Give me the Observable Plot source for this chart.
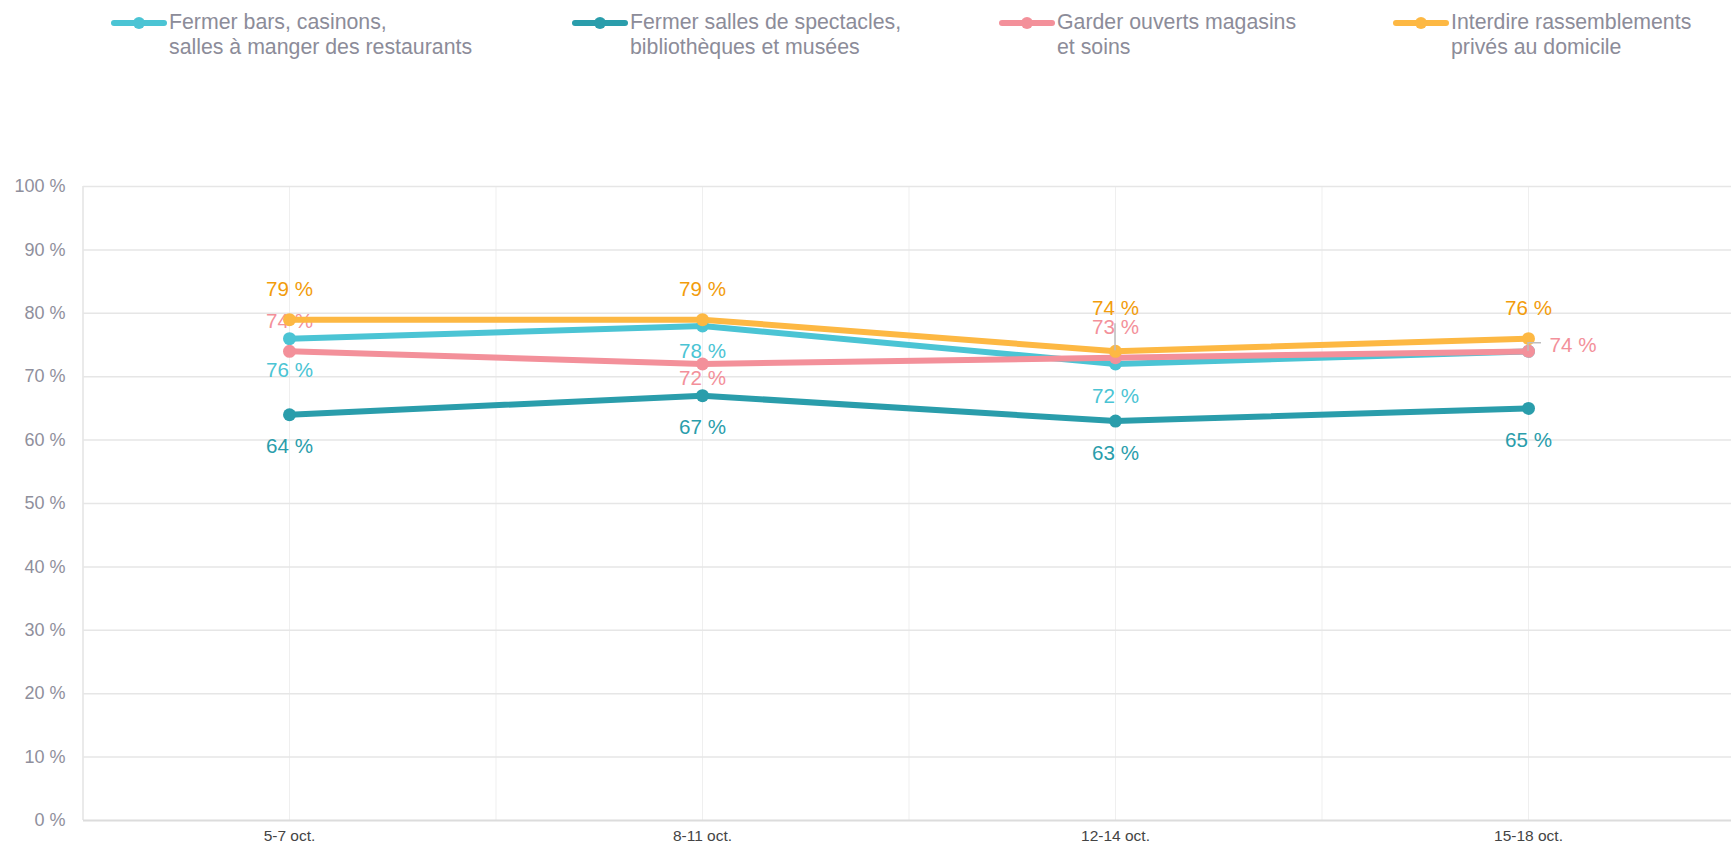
<!DOCTYPE html>
<html>
<head>
<meta charset="utf-8">
<script src="https://cdn.jsdelivr.net/npm/d3@7"></script>
<script src="https://cdn.jsdelivr.net/npm/@observablehq/plot@0.6"></script>
<style>
  html, body { margin: 0; padding: 0; background: #fff; }
  body { font-family: "Liberation Sans", Arial, sans-serif; width: 1731px; overflow: hidden; }
  #legend { position: relative; height: 60px; width: 1731px; }
  .item { position: absolute; top: 10px; display: flex; align-items: flex-start; }
  .item svg { flex: none; margin-top: 6px; }
  .item span { font-size: 21.3px; line-height: 25px; color: #8c8c99; white-space: pre-line; margin-left: 2px; }
  #chart svg { display: block; }
</style>
</head>
<body>
<div id="legend"></div>
<div id="chart"></div>
<script>
// ---- data ----
const periods = ["5-7 oct.", "8-11 oct.", "12-14 oct.", "15-18 oct."];
const seriesNames = [
  "Fermer bars, casinons,\nsalles à manger des restaurants",
  "Fermer salles de spectacles,\nbibliothèques et musées",
  "Garder ouverts magasins\net soins",
  "Interdire rassemblements\nprivés au domicile"
];
const barsCasinos = [76, 78, 72, 74];
const sallesSpectacles = [64, 67, 63, 65];
const magasinsSoins = [74, 72, 73, 74];
const rassemblements = [79, 79, 74, 76];
const yTicks = [0, 10, 20, 30, 40, 50, 60, 70, 80, 90, 100];

// ---- styling / layout ----
const lineColors = ["#4bc4d4", "#2a9dab", "#f3909a", "#fdb843"];
const labelColors = ["#4bc4d4", "#2a9dab", "#f3909a", "#f29c0c"];
const legendLeft = [111, 572, 999, 1393];
// label placement per series/period: "above", "below", "right" or null (hidden)
const labelPlacement = [
  ["below", "below", "below", null],
  ["below", "below", "below", "below"],
  ["above", "below", "above", "right"],
  ["above", "above", "above", "above"]
];
const labelNudge = [
  [0, -7, 0, 0],
  [0, 0, 0, 0],
  [0, -18, 0, 0],
  [0, 0, -13, 0]
];

const allSeries = [barsCasinos, sallesSpectacles, magasinsSoins, rassemblements];

// ---- legend ----
const legend = d3.select("#legend");
seriesNames.forEach((name, s) => {
  const item = legend.append("div").attr("class", "item").style("left", legendLeft[s] + "px");
  const svg = item.append("svg").attr("width", 56).attr("height", 14);
  svg.append("line").attr("x1", 3).attr("x2", 53).attr("y1", 7).attr("y2", 7)
    .attr("stroke", lineColors[s]).attr("stroke-width", 6).attr("stroke-linecap", "round");
  svg.append("circle").attr("cx", 28).attr("cy", 7).attr("r", 6).attr("fill", lineColors[s]);
  item.append("span").text(name);
});

// ---- chart ----
const rows = [];
allSeries.forEach((vals, s) => vals.forEach((v, i) => rows.push({s, i, v, period: periods[i]})));

const marks = [];
// grid
marks.push(Plot.ruleX([-0.5, 0, 0.5, 1, 1.5, 2, 2.5, 3, 3.5], {stroke: "#efefef", strokeWidth: 1}));
marks.push(Plot.ruleX([-0.5], {stroke: "#e6e6e6", strokeWidth: 1.5}));
marks.push(Plot.ruleY(yTicks.filter(d => d > 0), {stroke: "#e6e6e6", strokeWidth: 1.5}));
marks.push(Plot.ruleY([0], {stroke: "#dcdcdc", strokeWidth: 2}));
// axes labels
marks.push(Plot.text(yTicks, {y: d => d, text: d => d + " %", frameAnchor: "left", textAnchor: "end", dx: -18,
  fill: "#8f8f9c", fontSize: 18}));
marks.push(Plot.text(periods, {x: (d, i) => i, text: d => d, frameAnchor: "bottom", dy: 20,
  fill: "#444", fontSize: 15.5}));

// series
allSeries.forEach((vals, s) => {
  const data = rows.filter(r => r.s === s);
  marks.push(Plot.line(data, {x: "i", y: "v", stroke: lineColors[s], strokeWidth: 6,
    strokeLinejoin: "round", strokeLinecap: "round"}));
  marks.push(Plot.dot(data, {x: "i", y: "v", r: 6.5, fill: lineColors[s], stroke: "none"}));
  const place = (p) => data.filter(r => labelPlacement[s][r.i] === p);
  const common = {x: "i", y: "v", text: r => r.v + " %", fill: labelColors[s], fontSize: 20.6};
  for (const r of place("above")) marks.push(Plot.text([r], {...common, dy: -30 + labelNudge[s][r.i]}));
  for (const r of place("below")) marks.push(Plot.text([r], {...common, dy: 32 + labelNudge[s][r.i]}));
  for (const r of place("right")) marks.push(Plot.text([r], {...common, textAnchor: "start", dx: 21, dy: -6 + labelNudge[s][r.i]}));
});

// leader lines for displaced labels
marks.push((index, scales) => {
  const g = d3.create("svg:g").attr("fill", "none").attr("stroke", "#bdbdbd").attr("stroke-width", 1.5);
  const xa = scales.x(2), ya = scales.y(magasinsSoins[2]);
  g.append("path").attr("d", `M${xa},${ya - 7}V${ya - 34}`);
  const xb = scales.x(3), yb = scales.y(magasinsSoins[3]);
  g.append("path").attr("d", `M${xb},${yb}V${yb - 8}H${xb + 13}`);
  return g.node();
});

const chart = Plot.plot({
  width: 1731,
  height: 786,
  marginTop: 126,
  marginBottom: 26,
  marginLeft: 83,
  marginRight: 0,
  x: {type: "linear", domain: [-0.5, 3.5], range: [82.5, 1734.5], axis: null},
  y: {domain: [0, 100], axis: null},
  style: {fontFamily: '"Liberation Sans", Arial, sans-serif', background: "#fff", overflow: "hidden"},
  marks
});
document.getElementById("chart").appendChild(chart);
</script>
</body>
</html>
